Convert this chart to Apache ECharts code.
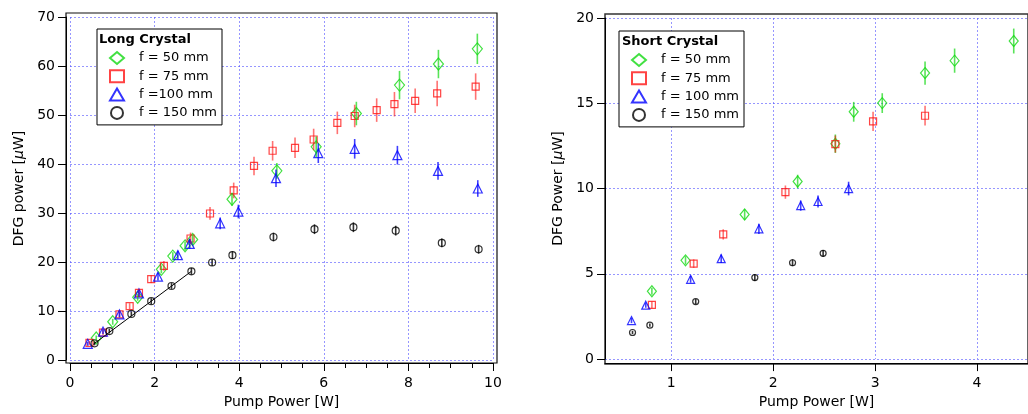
<!DOCTYPE html>
<html>
<head>
<meta charset="utf-8">
<script src="https://cdn.jsdelivr.net/npm/echarts@6/dist/echarts.min.js"></script>
<style>
  html, body { margin: 0; padding: 0; background: #fff; }
  #chart { width: 1028px; height: 414px; }
</style>
</head>
<body>
<div id="chart"></div>
<script>
// [pump power W, DFG power uW, error]
const long50 = [[0.62,4.5,0.5],[1.01,7.8,0.6],[1.60,12.8,0.7],[2.16,18.5,0.8],[2.43,21.2,0.8],[2.72,23.3,0.9],[2.90,24.6,1.0],[3.83,32.8,1.3],[4.89,38.6,1.6],[5.82,43.5,2.1],[6.77,50.3,2.4],[7.79,56.1,2.9],[8.71,60.4,2.9],[9.63,63.5,3.1]];
const long75 = [[0.46,3.5,0.4],[0.78,5.6,0.5],[1.17,9.3,0.6],[1.41,11.0,0.6],[1.63,13.7,0.8],[1.92,16.5,0.8],[2.22,19.2,1.0],[2.85,24.8,1.2],[3.31,29.9,1.3],[3.87,34.6,1.6],[4.35,39.6,1.9],[4.79,42.7,2.0],[5.32,43.3,2.1],[5.76,45.0,2.2],[6.32,48.4,2.3],[6.73,49.8,2.3],[7.25,51.0,2.4],[7.67,52.2,2.5],[8.16,52.9,2.5],[8.68,54.4,2.6],[9.59,55.8,2.7]];
const long100 = [[0.42,3.3,0.4],[0.78,5.8,0.5],[1.17,9.3,0.6],[1.63,13.6,0.7],[2.08,17.0,0.8],[2.55,21.4,0.9],[2.83,23.7,1.0],[3.55,27.9,1.2],[3.98,30.3,1.4],[4.87,37.1,1.8],[5.87,42.2,2.0],[6.73,43.1,2.0],[7.74,41.8,1.9],[8.70,38.6,1.8],[9.64,35.0,1.7]];
const long150 = [[0.58,3.4,0.4],[0.93,5.9,0.5],[1.45,9.4,0.5],[1.92,12.0,0.6],[2.40,15.1,0.6],[2.87,18.1,0.7],[3.36,19.9,0.7],[3.84,21.4,0.8],[4.81,25.1,0.9],[5.78,26.7,1.0],[6.70,27.1,1.0],[7.70,26.4,1.0],[8.79,23.9,0.9],[9.66,22.6,0.9]];
const longFit = [[0.55,3.2],[2.87,18.1]];

const short50 = [[0.81,3.98,0.2],[1.14,5.79,0.25],[1.72,8.48,0.3],[2.24,10.41,0.4],[2.61,12.63,0.54],[2.79,14.50,0.58],[3.07,15.01,0.58],[3.49,16.77,0.68],[3.78,17.50,0.71],[4.36,18.65,0.73]];
const short75 = [[0.81,3.18,0.2],[1.22,5.60,0.25],[1.51,7.31,0.3],[2.12,9.79,0.39],[2.61,12.61,0.5],[2.98,13.94,0.56],[3.49,14.27,0.58]];
const short100 = [[0.61,2.26,0.15],[0.75,3.16,0.15],[1.19,4.68,0.2],[1.49,5.89,0.25],[1.86,7.64,0.3],[2.27,9.0,0.3],[2.44,9.24,0.35],[2.74,10.0,0.4]];
const short150 = [[0.62,1.56,0.1],[0.79,1.99,0.1],[1.24,3.37,0.15],[1.82,4.78,0.2],[2.19,5.65,0.2],[2.49,6.2,0.2]];

const longLabels = ['f = 50 mm', 'f = 75 mm', 'f =100 mm', 'f = 150 mm'];
const shortLabels = ['f = 50 mm', 'f = 75 mm', 'f = 100 mm', 'f = 150 mm'];
const shortXTicks = [1, 2, 3, 4];

const colors = ['#12d812', '#ff1414', '#0000ff', '#000000'];
const barColors = ['rgba(18,216,18,0.7)', 'rgba(255,20,20,0.6)', 'rgba(0,0,255,0.75)', 'rgba(0,0,0,0.8)'];
const symbols = ['diamond', 'rect', 'triangle', 'circle'];
const longSizes = [[10, 12], 7, [9, 9], 7];
const shortSizes = [[9, 11], 7, [8, 8], 6];

const font = 'DejaVu Sans';
const gridColor = 'rgba(80,80,255,0.6)';

const chart = echarts.init(document.getElementById('chart'));

function errBar(params, api) {
  const x = api.value(0), y = api.value(1), e = api.value(2);
  const a = api.coord([x, y + e]);
  const b = api.coord([x, y - e]);
  return {
    type: 'line',
    shape: { x1: a[0], y1: a[1], x2: b[0], y2: b[1] },
    style: { stroke: api.visual('color'), lineWidth: 1.6 }
  };
}

function makeSeries(sets, labels, axis, sizes) {
  const out = [];
  sets.forEach((d, i) => {
    out.push({
      name: labels[i],
      type: 'scatter',
      xAxisIndex: axis, yAxisIndex: axis,
      data: d,
      symbol: symbols[i],
      symbolSize: sizes[i],
      itemStyle: { color: 'transparent', borderColor: colors[i], borderWidth: 1.2 },
      z: 3
    });
    out.push({
      name: 'err' + axis + '-' + i,
      type: 'custom',
      xAxisIndex: axis, yAxisIndex: axis,
      data: d,
      encode: { x: 0, y: 1 },
      renderItem: errBar,
      itemStyle: { color: barColors[i] },
      z: 4
    });
  });
  return out;
}

const series = [
  ...makeSeries([long50, long75, long100, long150], longLabels, 0, longSizes),
  {
    type: 'line',
    xAxisIndex: 0, yAxisIndex: 0,
    data: longFit,
    symbol: 'none',
    lineStyle: { color: '#000', width: 1 },
    z: 5
  },
  ...makeSeries([short50, short75, short100, short150], shortLabels, 2, shortSizes)
];

const tickStyle = { color: '#000', width: 1 };
const labelStyle = { color: '#000', fontSize: 14, fontFamily: font };
const nameStyle = { color: '#000', fontSize: 14, fontFamily: font, rich: { i: { fontStyle: 'italic', fontSize: 14, fontFamily: font } } };
const split = { show: true, lineStyle: { color: gridColor, type: [2, 2], width: 1 } };

function hiddenAxis(g) {
  return { type: 'value', gridIndex: g, show: false, splitLine: { show: false } };
}

function legendBox(names, left, top) {
  return {
    data: names, left: left, top: top, orient: 'vertical',
    padding: [22, 5, 5, 12], itemWidth: 14, itemHeight: 12, itemGap: 4.3,
    symbolKeepAspect: true,
    borderColor: '#000', borderWidth: 1, backgroundColor: '#fff',
    textStyle: { fontSize: 13, color: '#000', fontFamily: font, padding: [0, 0, 0, 10] },
    selectedMode: false, z: 8
  };
}

chart.setOption({
  animation: false,
  textStyle: { fontFamily: font },
  grid: [
    { left: 70, top: 17, width: 423, height: 343 },
    { left: 66, top: 13, width: 431, height: 350, show: true, borderColor: '#111', borderWidth: 1.2, backgroundColor: 'transparent' },
    { left: 605, top: 18, width: 429, height: 342 },
    { left: 605, top: 14, width: 429, height: 350, show: true, borderColor: '#333', borderWidth: 1.5, backgroundColor: 'transparent' }
  ],
  title: [
    { text: 'Long Crystal', left: 99, top: 33, padding: 0, z: 20, textStyle: { fontSize: 13, fontWeight: 'bold', color: '#000', fontFamily: font } },
    { text: 'Short Crystal', left: 622, top: 35, padding: 0, z: 20, textStyle: { fontSize: 13, fontWeight: 'bold', color: '#000', fontFamily: font } }
  ],
  legend: [
    legendBox(longLabels, 97, 29),
    legendBox(shortLabels, 619, 31)
  ],
  xAxis: [
    {
      type: 'value', gridIndex: 0, min: 0, max: 10, interval: 2, offset: 3,
      axisLine: { show: true, onZero: false, lineStyle: tickStyle },
      axisTick: { show: true, length: 8, lineStyle: tickStyle },
      minorTick: { show: true, splitNumber: 4, length: 5, lineStyle: tickStyle },
      axisLabel: { ...labelStyle, margin: 13 },
      splitLine: split,
      name: 'Pump Power [W]', nameLocation: 'middle', nameGap: 32, nameTextStyle: nameStyle
    },
    hiddenAxis(1),
    {
      type: 'value', gridIndex: 2, min: 0.35, max: 4.5, offset: 4,
      axisLine: { show: true, onZero: false, lineStyle: tickStyle },
      axisTick: { show: true, length: 8, lineStyle: tickStyle, customValues: shortXTicks },
      axisLabel: { ...labelStyle, margin: 13, customValues: shortXTicks },
      splitLine: split,
      name: 'Pump Power [W]', nameLocation: 'middle', nameGap: 31, nameTextStyle: nameStyle
    },
    hiddenAxis(3)
  ],
  yAxis: [
    {
      type: 'value', gridIndex: 0, min: 0, max: 70, interval: 10, offset: 4,
      axisLine: { show: true, onZero: false, lineStyle: tickStyle },
      axisTick: { show: true, length: 8, lineStyle: tickStyle },
      axisLabel: { ...labelStyle, margin: 11 },
      splitLine: split,
      name: 'DFG power [{i|μ}W]', nameLocation: 'middle', nameGap: 40, nameTextStyle: nameStyle
    },
    hiddenAxis(1),
    {
      type: 'value', gridIndex: 2, min: 0, max: 20, interval: 5, offset: 0,
      axisLine: { show: true, onZero: false, lineStyle: tickStyle },
      axisTick: { show: true, length: 8, lineStyle: tickStyle },
      axisLabel: { ...labelStyle, margin: 11 },
      splitLine: split,
      name: 'DFG Power [{i|μ}W]', nameLocation: 'middle', nameGap: 40, nameTextStyle: nameStyle
    },
    hiddenAxis(3)
  ],
  series: series
});
</script>
</body>
</html>
